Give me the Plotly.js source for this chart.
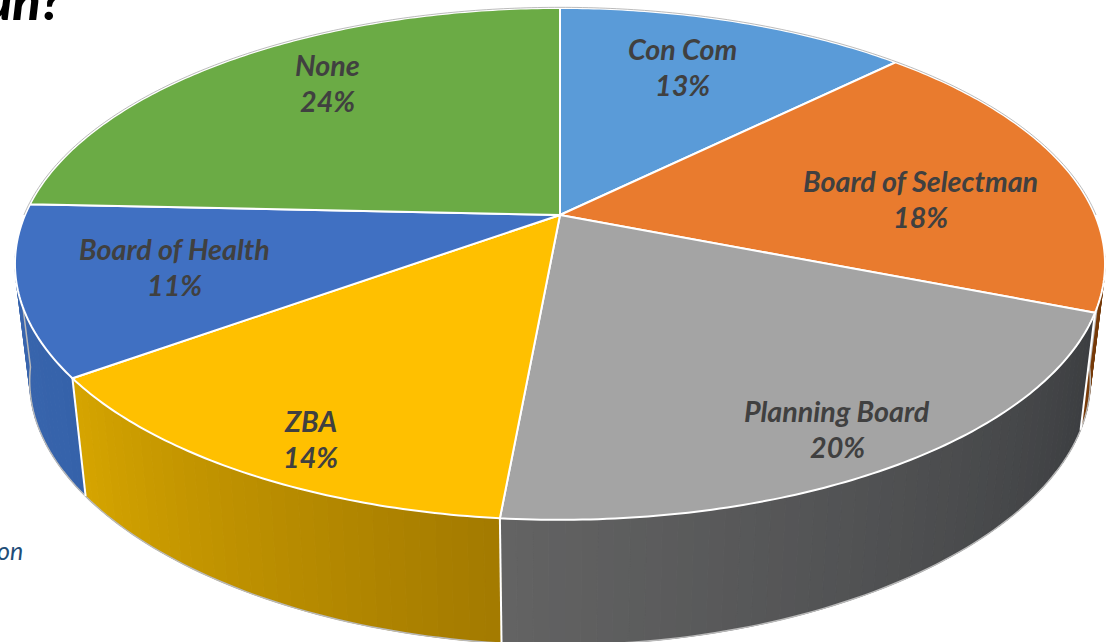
<!DOCTYPE html>
<html>
<head>
<meta charset="utf-8">
<script src="https://cdn.plot.ly/plotly-3.0.1.min.js"></script>
<style>html,body{margin:0;padding:0;background:#fff;overflow:hidden}#chart{width:1110px;height:642px}</style>
</head>
<body>
<div id="chart"></div>
<script>
// Data (shares in percent, clockwise from 12 o'clock)
var categories = ['Con Com', 'Board of Selectman', 'Planning Board', 'ZBA', 'Board of Health', 'None'];
var shares = [12.6, 18.4, 20.45, 13.55, 10.7, 24.3];
var topColors = ['#5a9bd8', '#e97b2e', '#a4a4a4', '#ffc000', '#4070c2', '#6bab45'];
var wallStart = ['#1f4e79', '#7a3c0a', '#636363', '#d6a500', '#3a66ae', '#4b7a2e'];
var wallEnd = ['#1f4e79', '#6e3505', '#3b3d40', '#a37a00', '#3562aa', '#4b7a2e'];
var labelX = [682, 920, 837, 310, 174, 327];
var labelY1 = [49, 181, 411, 421, 249, 65];
var labelY2 = [85, 217, 447, 457, 285, 101];

// Perspective of the tilted disc
var cx = 560, cy = 215, A = 535, B = 246.6, k = 0.191, s = 0.973;
function rim(f) {
  var t = 2 * Math.PI * f, u = Math.sin(t), v = Math.cos(t), w = 1 + k * v;
  return [cx + A * u / w, cy - B * v / w, v];
}
function low(f) {
  var p = rim(f), d = 117 + (p[2] < 0 ? 8 * Math.pow(p[2], 4) : 0);
  return [cx + (p[0] - cx) * s, p[1] + d];
}
function hex(c) { return [1, 3, 5].map(function (i) { return parseInt(c.substr(i, 2), 16); }); }
function mix(a, b, t) {
  var x = hex(a), y = hex(b);
  return 'rgb(' + x.map(function (q, i) { return Math.round(q + (y[i] - q) * t); }).join(',') + ')';
}

var total = shares.reduce(function (a, b) { return a + b; }, 0);
var edges = [0];
shares.forEach(function (v, i) { edges.push(edges[i] + v / total); });

var traces = [];
function poly(xs, ys, fill, lineColor, lineWidth) {
  traces.push({ x: xs, y: ys, mode: 'lines', type: 'scatter', fill: fill ? 'toself' : 'none', fillcolor: fill || undefined,
    line: { color: lineColor, width: lineWidth, simplify: false }, hoverinfo: 'skip', showlegend: false });
}

// Side wall: painted as narrow gradient strips, only the front part that can be seen
var visFrom = 0.272, visTo = 0.728;
var stepsPer = 0.004;
shares.forEach(function (v, i) {
  var a = Math.max(edges[i], visFrom), b = Math.min(edges[i + 1], visTo);
  if (b <= a) return;
  var n = Math.max(2, Math.ceil((b - a) / stepsPer));
  for (var j = 0; j < n; j++) {
    var f0 = a + (b - a) * j / n, f1 = a + (b - a) * (j + 1) / n;
    var p0 = rim(f0), p1 = rim(f1), q0 = low(f0), q1 = low(f1);
    var col = mix(wallEnd[i], wallStart[i], (j + 0.5) / n);
    poly([p0[0], p1[0], q1[0], q0[0], p0[0]], [p0[1], p1[1], q1[1], q0[1], p0[1]], col, col, 1);
  }
});

// Outline of the wall: tangent edges and the bottom rim
var bx = [rim(visFrom)[0]], by = [rim(visFrom)[1]];
for (var f = visFrom; f <= visTo; f += 0.003) { var q = low(f); bx.push(q[0]); by.push(q[1]); }
var qe = low(visTo), pe = rim(visTo);
bx.push(qe[0], pe[0]); by.push(qe[1], pe[1]);
poly(bx, by, null, '#b9b9b9', 1.5);

// White seams on the wall
[edges[2], edges[3], edges[4]].forEach(function (e) {
  var p = rim(e), q = low(e);
  poly([p[0], q[0]], [p[1], q[1]], null, '#ffffff', 2);
});

// Top face of each slice
shares.forEach(function (v, i) {
  var xs = [cx], ys = [cy];
  var n = Math.ceil((edges[i + 1] - edges[i]) / 0.002);
  for (var j = 0; j <= n; j++) {
    var p = rim(edges[i] + (edges[i + 1] - edges[i]) * j / n);
    xs.push(p[0]); ys.push(p[1]);
  }
  xs.push(cx); ys.push(cy);
  poly(xs, ys, topColors[i], '#ffffff', 2);
});

// Thin grey outer edge of the disc (back half)
var ox = [], oy = [];
for (var g = -0.25; g <= 0.2501; g += 0.002) {
  var r = rim(g);
  ox.push(cx + (r[0] - cx) * 1.002); oy.push(cy + (r[1] - cy) * 1.003);
}
poly(ox, oy, null, 'rgba(150,150,150,0.65)', 1);

// Labels
var labelFont = { family: 'Lato, "Open Sans", sans-serif', size: 28.7, color: '#404040' };
var annotations = [];
categories.forEach(function (c, i) {
  annotations.push({ x: labelX[i], y: labelY1[i], text: '<b><i>' + c + '</i></b>', showarrow: false, font: labelFont, xanchor: 'center', yanchor: 'middle' });
  annotations.push({ x: labelX[i], y: labelY2[i], text: '<b><i>' + Math.round(shares[i]) + '%</i></b>', showarrow: false, font: labelFont, xanchor: 'center', yanchor: 'middle' });
});
annotations.push({ x: 64, y: 0, text: '<i>an?</i>', showarrow: false, xanchor: 'right', yanchor: 'middle',
  font: { family: 'Lato, sans-serif', size: 52, color: '#000000', weight: 900 } });
annotations.push({ x: 25, y: 550, text: '<i>on</i>', showarrow: false, xanchor: 'right', yanchor: 'middle',
  font: { family: 'Lato, sans-serif', size: 25, color: '#1f4e79' } });

var layout = {
  width: 1110, height: 642, margin: { l: 0, r: 0, t: 0, b: 0 },
  paper_bgcolor: '#ffffff', plot_bgcolor: '#ffffff', showlegend: false,
  xaxis: { range: [0, 1110], visible: false, fixedrange: true },
  yaxis: { range: [642, 0], visible: false, fixedrange: true },
  annotations: annotations
};
Plotly.newPlot('chart', traces, layout, { displayModeBar: false, staticPlot: true });
</script>
</body>
</html>
